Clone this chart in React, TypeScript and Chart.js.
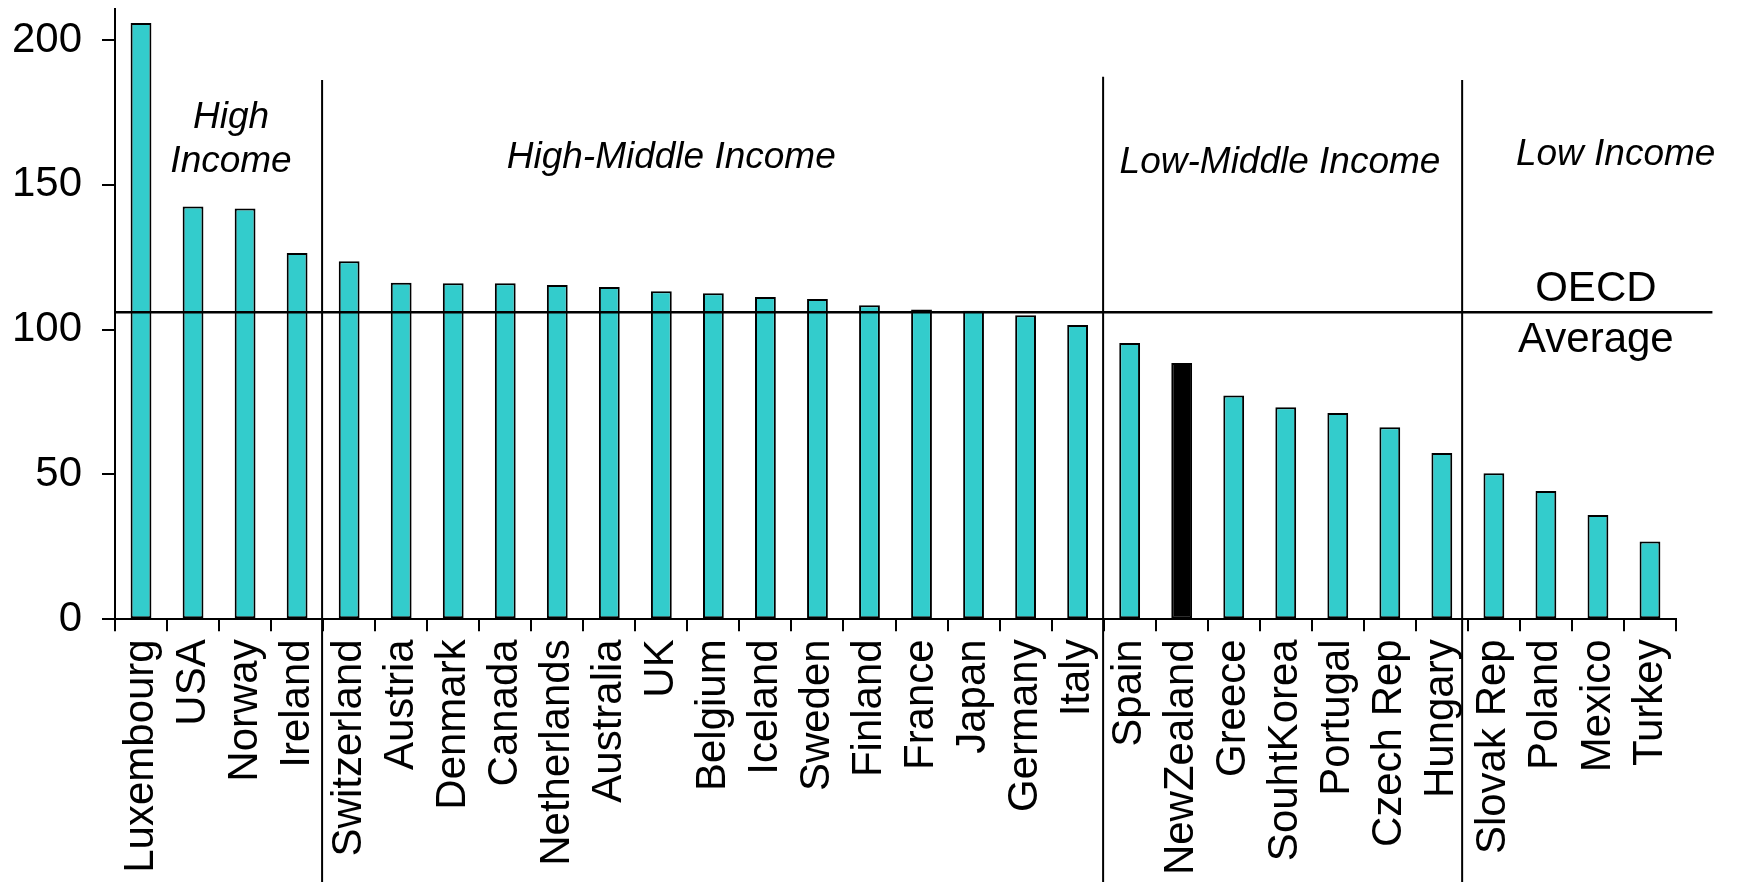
import React, { useEffect, useRef } from 'react';
import { Chart, registerables } from 'chart.js';

Chart.register(...registerables);

// ---- data ----
const categories = [
  'Luxembourg', 'USA', 'Norway', 'Ireland',
  'Switzerland', 'Austria', 'Denmark', 'Canada', 'Netherlands', 'Australia', 'UK',
  'Belgium', 'Iceland', 'Sweden', 'Finland', 'France', 'Japan', 'Germany', 'Italy',
  'Spain', 'NewZealand', 'Greece', 'SouhtKorea', 'Portugal', 'Czech Rep', 'Hungary',
  'Slovak Rep', 'Poland', 'Mexico', 'Turkey',
];
const values = [
  205.9, 142.5, 141.8, 126.5,
  123.6, 116.2, 116.0, 116.0, 115.4, 114.7, 113.3,
  112.6, 111.3, 110.6, 108.4, 107.0, 106.5, 105.0, 101.6,
  95.4, 88.5, 77.3, 73.2, 71.2, 66.3, 57.4,
  50.4, 44.3, 36.0, 26.9,
];
const highlightedCountry = 'NewZealand';
const oecdAverage = 106.0;
const yTickValues = [0, 50, 100, 150, 200];
const yAxisMax = 210.6;
const groupNames = [['High', 'Income'], ['High-Middle Income'], ['Low-Middle Income'], ['Low Income']];
const averageLabel = ['OECD', 'Average'];

// ---- annotation placement (in data units of the axes) ----
const dividerAt = [3.48, 18.49, 25.39];
const dividerTop = [186.2, 187.3, 186.2];
const groupLabelX = [1.73, 10.19, 21.89, 28.34];
const groupLabelY = [[169.5, 154.6], [155.7], [154.0], [156.8]];
const averageLabelX = 27.96;
const averageLabelY = [110.0, 92.4];
const averageLineEnd = 30.2;

const FONT = '"Liberation Sans", Arial, sans-serif';
const TEAL = '#33CCCC';

const annotationPlugin = {
  id: 'incomeGroupAnnotations',
  afterDatasetsDraw(chart: any) {
    const { ctx, chartArea } = chart;
    const x = chart.scales.x;
    const y = chart.scales.y;
    ctx.save();
    ctx.strokeStyle = '#000';
    ctx.fillStyle = '#000';

    // OECD average line
    const ay = y.getPixelForValue(oecdAverage);
    ctx.lineWidth = 2.5;
    ctx.beginPath();
    ctx.moveTo(chartArea.left, ay);
    ctx.lineTo(x.getPixelForValue(averageLineEnd), ay);
    ctx.stroke();

    // group dividers
    ctx.lineWidth = 2;
    dividerAt.forEach((d, i) => {
      const px = x.getPixelForValue(d);
      ctx.beginPath();
      ctx.moveTo(px, y.getPixelForValue(dividerTop[i]));
      ctx.lineTo(px, chart.height);
      ctx.stroke();
    });

    // group labels
    ctx.textAlign = 'center';
    ctx.textBaseline = 'alphabetic';
    ctx.font = `italic 37px ${FONT}`;
    groupNames.forEach((lines, i) => {
      lines.forEach((line, j) => {
        ctx.fillText(line, x.getPixelForValue(groupLabelX[i]), y.getPixelForValue(groupLabelY[i][j]));
      });
    });

    // OECD average label
    ctx.font = `42px ${FONT}`;
    averageLabel.forEach((line, j) => {
      ctx.fillText(line, x.getPixelForValue(averageLabelX), y.getPixelForValue(averageLabelY[j]));
    });
    ctx.restore();
  },
};

export default function App() {
  const canvasRef = useRef<HTMLCanvasElement | null>(null);

  useEffect(() => {
    document.body.style.margin = '0';
    const canvas = canvasRef.current;
    if (!canvas) return;
    const chart = new Chart(canvas, {
      type: 'bar',
      data: {
        labels: categories,
        datasets: [
          {
            data: values,
            backgroundColor: categories.map((c) => (c === highlightedCountry ? '#000000' : TEAL)),
            borderColor: '#000000',
            borderWidth: 2,
            borderSkipped: false,
            categoryPercentage: 1,
            barPercentage: 0.4,
          },
        ],
      },
      options: {
        animation: false,
        responsive: false,
        devicePixelRatio: 1,
        layout: { padding: { top: 9.3, right: 61, left: 0, bottom: 0 } },
        plugins: {
          legend: { display: false },
          tooltip: { enabled: false },
        },
        scales: {
          x: {
            type: 'category',
            offset: true,
            grid: {
              display: true,
              offset: true,
              drawOnChartArea: false,
              drawTicks: true,
              tickLength: 12,
              color: '#000',
              lineWidth: 2,
            },
            border: { display: true, color: '#000', width: 2 },
            ticks: {
              autoSkip: false,
              minRotation: 90,
              maxRotation: 90,
              padding: 8,
              color: '#000',
              font: { family: FONT, size: 42 },
            },
            afterFit: (scale: any) => {
              scale.height = 262.7;
              scale.paddingLeft = 0;
              scale.paddingRight = 0;
            },
          },
          y: {
            min: 0,
            max: yAxisMax,
            grid: {
              display: true,
              drawOnChartArea: false,
              drawTicks: true,
              tickLength: 13,
              color: '#000',
              lineWidth: 2,
            },
            border: { display: true, color: '#000', width: 2 },
            ticks: {
              stepSize: 50,
              includeBounds: false,
              padding: 20,
              color: '#000',
              font: { family: FONT, size: 42 },
            },
            afterBuildTicks: (scale: any) => {
              scale.ticks = yTickValues.map((v) => ({ value: v }));
            },
            afterFit: (scale: any) => {
              scale.width = 115;
              scale.paddingTop = 0;
              scale.paddingBottom = 0;
            },
          },
        },
      },
      plugins: [annotationPlugin],
    });
    return () => chart.destroy();
  }, []);

  return (
    <div style={{ width: 1737, height: 882 }}>
      <canvas ref={canvasRef} width={1737} height={882} />
    </div>
  );
}
